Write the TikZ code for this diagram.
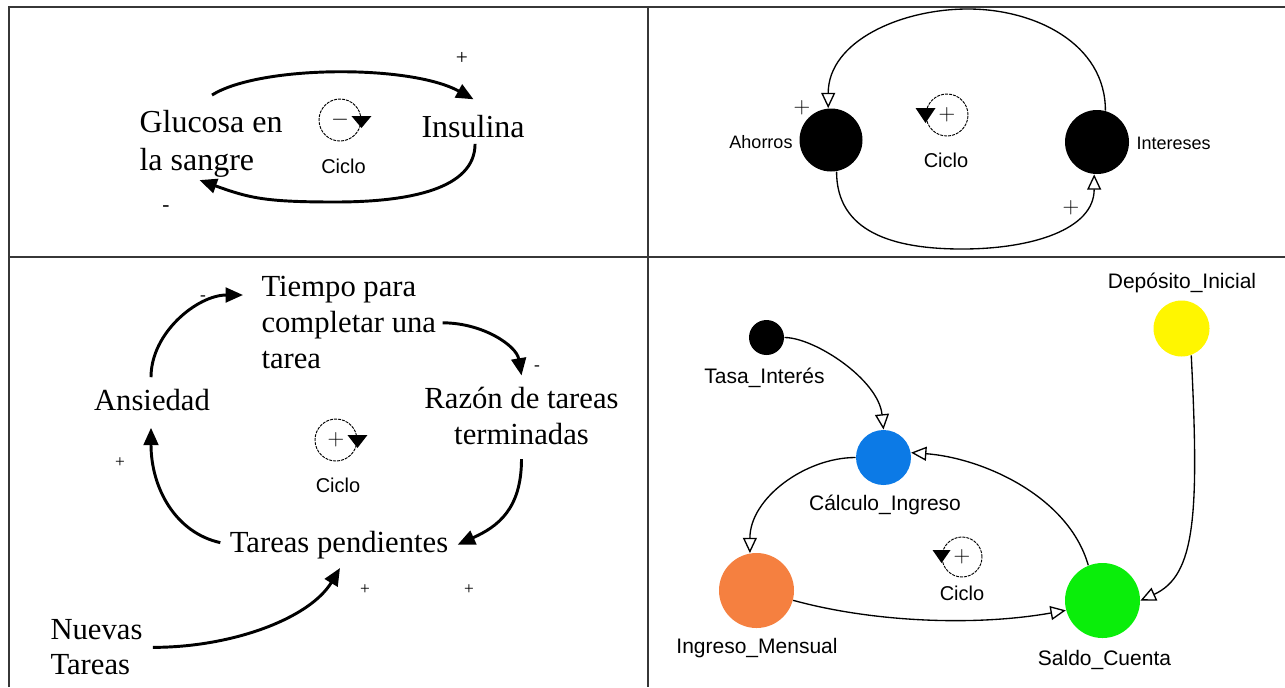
\documentclass[tikz,border=0pt]{standalone}
\usepackage{fontspec}
\setmainfont{Liberation Serif}
\newfontfamily\sansfam{Liberation Sans}
\usetikzlibrary{arrows.meta,calc}

\tikzset{every picture/.style={line width=0.75pt}}
\tikzset{
  panelline/.style={draw={rgb,255:red,55;green,55;blue,55}, line width=1.5pt},
  vartext/.style={inner sep=0pt, font=\fontsize{23}{27}\selectfont},
  vartextbig/.style={inner sep=0pt, font=\fontsize{24}{28.5}\selectfont},
  signtext/.style={inner sep=0pt, font=\fontsize{13}{13}\selectfont},
  signtextbig/.style={inner sep=0pt, font=\fontsize{16}{16}\selectfont},
  cyclelabel/.style={inner sep=0pt, font=\sansfam\fontsize{15}{15}\selectfont},
  modellabel/.style={inner sep=0pt, font=\sansfam\fontsize{15.75}{16}\selectfont},
  modellabelsmall/.style={inner sep=0pt, font=\sansfam\fontsize{13.5}{14}\selectfont},
  loopsym/.style={circle, draw, dash pattern=on 2.2pt off 0.8pt, line width=0.7pt, minimum size=31.5pt, inner sep=0pt, font=\fontsize{18}{18}\selectfont},
  causal/.style={line width=2.2pt, -{Triangle[length=13pt,width=11pt]}},
  infl/.style={line width=1pt, -{Triangle[open,length=11.5pt,width=10.5pt]}},
  varnode/.style={circle, inner sep=0pt, draw=none},
}

\begin{document}
\begin{tikzpicture}[x=0.75pt,y=0.75pt,yscale=-1,xscale=1]
\path[use as bounding box, fill=white] (0,0) rectangle (1285,687);

%Shape: Table lines
\draw [panelline] (9,687) -- (9,7) -- (1285,7) ;
\draw [panelline] (648,7) -- (648,687) ;
\draw [panelline] (9,257) -- (1285,257) ;

%% ---- Panel 1: glucosa / insulina
% Text Node
\node [vartextbig, anchor=north west, align=left] (gluc) at (139,110) {Glucosa en\\la sangre};
% Text Node
\node [vartextbig, anchor=base west] (insul) at (421,137) {Insulina};
% Text Node
\node [signtextbig] (signA1) at (462,58) {+};
% Text Node
\node [signtextbig] (signA2) at (166,209) {-};
%Shape: Loop symbol
\node [loopsym] (cicloA) at (340,120) {$-$};
\fill (cicloA.east) ++(-10,-4) -- ++(20,0) -- ++(-10,12) -- cycle ;
\node [cyclelabel, anchor=base] (cicloAtxt) at (343.5,173) {Ciclo};
% Connectors
\coordinate (glucLow) at (335,202);
\draw [causal] ($(gluc.north)+(1,-15)$) .. controls +(48,-30) and +(-63,-35) .. ($(insul.north)+(0.5,-15)$);
\draw [causal] ($(insul.south)+(2,6)$) .. controls +(0,45) and +(75,0) .. (glucLow) .. controls +(-70,0) and +(50,18) .. ($(gluc.south)+(-11.5,2)$);

%% ---- Panel 2: ahorros / intereses
%Shape: Circle
\node [varnode, fill=black, minimum size=47.25pt] (ahorro) at (831,140) {};
%Shape: Circle
\node [varnode, fill=black, minimum size=48pt] (inter) at (1097,142) {};
% Text Node
\node [modellabelsmall, anchor=base east] (ahorrotxt) at (793,148) {Ahorros};
% Text Node
\node [modellabelsmall, anchor=base west] (intertxt) at (1136,149) {Intereses};
% Text Node
\node [inner sep=0pt, font=\fontsize{16}{16}\selectfont] (signB1) at (802,108) {$+$};
% Text Node
\node [inner sep=0pt, font=\fontsize{16}{16}\selectfont] (signB2) at (1071,208) {$+$};
%Shape: Loop symbol
\node [loopsym] (cicloB) at (947,115) {$+$};
\fill (cicloB.west) ++(-10,-7) -- ++(20,0) -- ++(-10,15) -- cycle ;
\node [cyclelabel, anchor=base] (cicloBtxt) at (946,167) {Ciclo};
% Connectors
\coordinate (arcTop) at (968,9);
\coordinate (arcBot) at (962,249);
\draw [infl] (inter.75) .. controls +(0,-67) and +(67,0) .. (arcTop) .. controls +(-67,0) and +(0,-67) .. (ahorro.95);
\draw [infl] (ahorro.280) .. controls +(0,60) and +(-70,0) .. (arcBot) .. controls +(70,0) and +(0,55) .. (inter.265);

%% ---- Panel 3: tareas
% Text Node
\node [vartext, anchor=north west, align=left] (tiempo) at (261,276) {Tiempo para\\completar una\\tarea};
% Text Node
\node [vartext, anchor=base] (ans) at (152,410) {Ansiedad};
% Text Node
\node [vartext, anchor=north, align=center] (razon) at (521.5,386.5) {Razón de tareas\\terminadas};
% Text Node
\node [vartext, anchor=base] (tareas) at (339,552) {Tareas pendientes};
% Text Node
\node [vartext, anchor=north west, align=left, font=\fontsize{23}{26.5}\selectfont] (nuevas) at (50,619) {Nuevas\\Tareas};
% Text Node
\node [signtext] (signC1) at (203,298) {-};
\node [signtext] (signC2) at (537,368) {-};
\node [signtext] (signC3) at (120,463) {+};
\node [signtext] (signC4) at (365,590) {+};
\node [signtext] (signC5) at (469,590) {+};
%Shape: Loop symbol
\node [loopsym] (cicloC) at (336,440) {$+$};
\fill (cicloC.east) ++(-10,-5) -- ++(20,0) -- ++(-10,13) -- cycle ;
\node [cyclelabel, anchor=base] (cicloCtxt) at (338,492) {Ciclo};
% Connectors
\draw [causal] ($(ans.north)+(-1,-11)$) .. controls +(0,-45) and +(-45,0) .. ($(tiempo.north west)+(-18,19)$);
\draw [causal] ($(tiempo.east)+(6,0)$) .. controls +(40,0) and +(-5,-30) .. ($(razon.north)+(0,-11)$);
\draw [causal] ($(razon.south)+(0,14)$) .. controls +(0,50) and +(40,-18) .. ($(tareas.east)+(9,0)$);
\draw [causal] ($(tareas.west)+(-9,-2)$) .. controls +(-45,-10) and +(0,60) .. ($(ans.south)+(-1,17)$);
\draw [causal] ($(nuevas.east)+(10,0)$) .. controls +(80,0) and +(-30,50) .. ($(tareas.south)+(1,9)$);

%% ---- Panel 4: saldo de cuenta
%Shape: Circle
\node [varnode, fill=black, minimum size=26.25pt] (tasa) at (766.5,337.5) {};
\node [varnode, fill={rgb,255:red,12;green,122;blue,230}, minimum size=41.25pt] (calc) at (883.5,457.5) {};
\node [varnode, fill={rgb,255:red,245;green,128;blue,64}, minimum size=56.25pt] (ingm) at (756.5,590.5) {};
\node [varnode, fill={rgb,255:red,10;green,238;blue,10}, minimum size=56.25pt] (saldo) at (1102.5,600.5) {};
\node [varnode, fill={rgb,255:red,255;green,246;blue,0}, minimum size=42pt] (depo) at (1181.5,328.5) {};
% Text Node
\node [modellabel, anchor=base] (tasatxt) at (764.5,383) {Tasa\_Interés};
\node [modellabel, anchor=base] (calctxt) at (885,510) {Cálculo\_Ingreso};
\node [modellabel, anchor=base] (ingmtxt) at (757,653) {Ingreso\_Mensual};
\node [modellabel, anchor=base] (saldotxt) at (1104.5,665) {Saldo\_Cuenta};
\node [modellabel, anchor=base] (depotxt) at (1182,288) {Depósito\_Inicial};
%Shape: Loop symbol
\node [loopsym, minimum size=30pt] (cicloD) at (962,557) {$+$};
\fill (cicloD.west) ++(-9,-7) -- ++(18,0) -- ++(-9,13) -- cycle ;
\node [cyclelabel, anchor=base] (cicloDtxt) at (962,600) {Ciclo};
% Connectors
\draw [infl] (tasa.east) .. controls +(30,0) and +(-5,-50) .. (calc.north);
\draw [infl] (calc.west) .. controls +(-50,0) and +(0,-55) .. (ingm.100);
\draw [infl] (ingm.-15) .. controls +(80,22) and +(-90,16) .. (saldo.195);
\draw [infl] (saldo.112) .. controls +(-20,-70) and +(70,5) .. (calc.10);
\draw [infl] (depo.290) .. controls +(8,160) and +(55,-25) .. (saldo.east);

\end{tikzpicture}
\end{document}
